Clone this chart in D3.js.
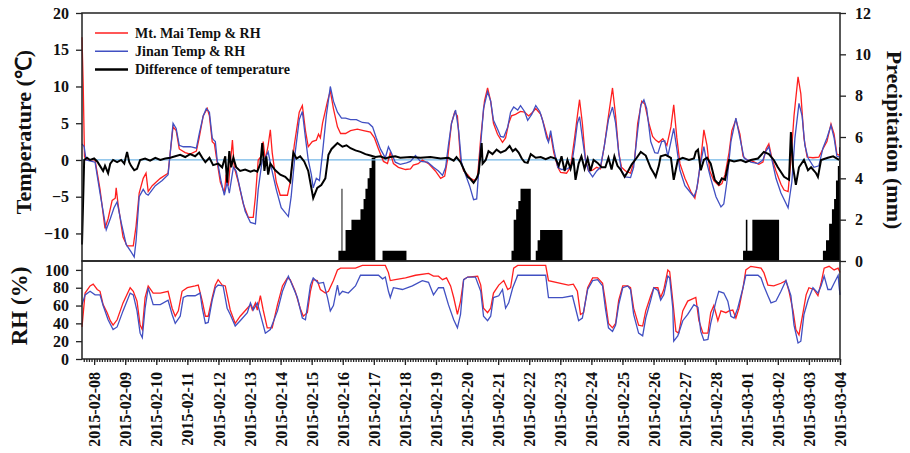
<!DOCTYPE html>
<html>
<head>
<meta charset="utf-8">
<script src="https://cdn.jsdelivr.net/npm/d3@7"></script>
<style>
body{margin:0;background:#fff}
text{font-family:"Liberation Serif","Times New Roman",serif;font-weight:bold;fill:#111}
</style>
</head>
<body>
<svg id="chart" width="910" height="453"></svg>
<script>
// time = days after 2015-02-08 00:00
var maiTemp=[[-0.39,16.7],[-0.35,10],[-0.31,0.5],[-0.26,0],[0.03,0],[0.19,-4],[0.35,-9.3],[0.45,-8],[0.58,-5.5],[0.68,-5.2],[0.71,-3.8],[0.77,-6],[0.93,-10.5],[1.06,-11.7],[1.26,-11.7],[1.35,-9],[1.45,-4.5],[1.58,-2.5],[1.67,-1.8],[1.74,-4.3],[1.87,-3.5],[2.13,-2.5],[2.38,-1.8],[2.45,1],[2.54,4.5],[2.64,4],[2.74,1.5],[2.93,1],[3.09,0.8],[3.29,1.2],[3.38,3],[3.51,6],[3.64,7],[3.71,6],[3.80,2.5],[3.87,2.2],[3.93,0.5],[4.06,-3],[4.19,-4.5],[4.25,-2],[4.32,-3.5],[4.45,2.7],[4.51,-1],[4.64,-3],[4.80,-6],[4.96,-7.8],[5.12,-7.8],[5.19,-5],[5.28,0],[5.38,0.5],[5.44,2.5],[5.51,0],[5.60,2],[5.67,4.1],[5.73,1],[5.86,-3],[5.99,-4.8],[6.22,-4.8],[6.31,-3],[6.44,2],[6.60,6.5],[6.70,7.4],[6.80,4],[6.89,1.8],[7.02,2.5],[7.15,2.7],[7.22,3.5],[7.28,3],[7.35,5],[7.51,8],[7.60,9.4],[7.70,7],[7.83,4.5],[7.93,3.6],[8.09,3.6],[8.25,4.0],[8.47,4.2],[8.67,4.0],[8.89,3.8],[9.02,3],[9.15,1.5],[9.31,-0.2],[9.44,-0.5],[9.53,1],[9.63,-0.5],[9.79,-1],[10.02,-1.3],[10.18,-1.2],[10.27,-0.7],[10.43,-0.5],[10.56,0],[10.76,-0.5],[10.98,-1.5],[11.15,-2.5],[11.28,-2.2],[11.37,0],[11.50,5],[11.60,6.5],[11.69,6],[11.79,0],[11.89,-1.5],[12.02,-2],[12.11,-2.5],[12.24,-2.8],[12.34,-2.2],[12.44,3],[12.56,8],[12.66,9.8],[12.76,8],[12.85,5],[12.98,3.5],[13.14,2.4],[13.24,3],[13.34,5],[13.43,6],[13.56,6.2],[13.72,6.6],[13.85,6.5],[13.98,6],[14.11,6.5],[14.21,7],[14.37,6.2],[14.46,5],[14.56,3.5],[14.62,2.6],[14.69,3.5],[14.79,1],[14.92,-1],[15.01,-1.7],[15.20,-1.8],[15.33,-1],[15.46,3],[15.55,6],[15.62,8.2],[15.71,5],[15.81,0],[15.91,-1.5],[16.04,-1.4],[16.17,-1],[16.29,-1.2],[16.42,2],[16.55,6],[16.68,9.8],[16.78,6],[16.88,1],[16.97,-1],[17.10,-1.5],[17.26,-1.8],[17.39,0],[17.49,5],[17.62,8],[17.72,7.6],[17.85,5],[17.97,3.2],[18.07,2.7],[18.17,2.4],[18.30,2.9],[18.43,2],[18.56,4.5],[18.65,7.5],[18.75,3],[18.85,-0.5],[19.01,-2.5],[19.20,-4.3],[19.33,-5.2],[19.43,-3],[19.52,0],[19.62,4.1],[19.72,2],[19.81,-1.5],[19.94,-2.8],[20.10,-3.5],[20.20,-3.2],[20.30,-2],[20.43,1],[20.52,4],[20.65,5.5],[20.78,3.5],[20.88,0.5],[21.00,0],[21.20,-0.2],[21.39,-0.6],[21.52,-0.3],[21.62,1.5],[21.71,2.2],[21.81,0.2],[21.94,-1.5],[22.10,-3.3],[22.20,-4.1],[22.33,-4.3],[22.42,0],[22.52,6],[22.65,11.3],[22.74,9],[22.84,3],[22.94,0.4],[23.13,0.3],[23.32,0.4],[23.45,1.5],[23.58,2.5],[23.71,4.9],[23.81,3.5],[23.90,0.8],[24.0,0.6]];

var jinanTemp=[[-0.39,2.2],[-0.32,1.8],[-0.26,0],[0.03,-0.3],[0.19,-4.5],[0.39,-9.5],[0.52,-8],[0.64,-6.5],[0.74,-5.7],[0.87,-8.5],[1.03,-11.5],[1.19,-12.5],[1.29,-13.2],[1.35,-11],[1.45,-5],[1.58,-4],[1.67,-4.6],[1.74,-4.8],[1.97,-3.5],[2.19,-2.8],[2.38,-2],[2.45,1],[2.54,5],[2.64,4.3],[2.74,2],[2.87,1.8],[3.09,1.8],[3.29,1.6],[3.38,3.5],[3.51,6],[3.61,7],[3.71,6.5],[3.80,3],[3.83,2.8],[3.90,2.5],[3.96,0],[4.09,-3],[4.19,-4.8],[4.28,-3],[4.35,-4.5],[4.48,-1],[4.57,-1.5],[4.70,-4],[4.86,-7],[5.03,-8.5],[5.19,-8.7],[5.28,-4],[5.41,0],[5.51,0.3],[5.60,1.1],[5.70,-1],[5.86,-4],[6.02,-6.5],[6.25,-7.7],[6.34,-5],[6.47,1],[6.60,5.5],[6.70,6.6],[6.80,3],[6.89,0],[6.99,-2],[7.05,-3.8],[7.15,-2.5],[7.25,-2.8],[7.35,1],[7.47,6],[7.60,10],[7.70,8],[7.83,6.5],[7.96,5.7],[8.09,5.7],[8.25,5.5],[8.44,5.5],[8.63,5.1],[8.83,5],[8.96,4.5],[9.08,3],[9.21,1.5],[9.37,0.3],[9.47,1.8],[9.56,1],[9.69,-0.3],[9.85,-0.6],[10.05,-0.4],[10.18,-0.2],[10.34,0.6],[10.50,-0.2],[10.73,-0.3],[10.92,-1],[11.08,-1.5],[11.21,-2.1],[11.31,-1],[11.40,2],[11.50,5],[11.63,6.8],[11.73,4],[11.82,-0.3],[11.95,-2],[12.08,-3.5],[12.21,-5.4],[12.31,-5.3],[12.40,0],[12.53,7],[12.66,9.3],[12.76,8],[12.85,5.4],[12.98,4.2],[13.08,3.2],[13.18,3.1],[13.31,4.5],[13.40,6.5],[13.50,7.2],[13.63,6.8],[13.72,7.4],[13.85,6.6],[13.95,5.4],[14.08,6.2],[14.21,7.4],[14.34,6.6],[14.43,5.4],[14.56,3],[14.62,2.4],[14.69,4],[14.79,1.5],[14.92,-1],[15.04,-1.3],[15.23,-1.2],[15.36,-0.8],[15.46,2],[15.55,5],[15.62,5.9],[15.71,3],[15.81,0],[15.91,-1.5],[16.04,-2.3],[16.17,-1.5],[16.29,-1],[16.42,2],[16.55,5.5],[16.68,7.2],[16.78,5],[16.88,1],[16.97,-1.5],[17.10,-2.3],[17.26,-2.4],[17.36,-1],[17.49,4],[17.59,7.5],[17.69,8.2],[17.78,7],[17.91,2.5],[18.04,1],[18.14,0.9],[18.26,2.5],[18.36,2.6],[18.46,0.5],[18.56,2.5],[18.65,4.3],[18.75,1.5],[18.85,-1.4],[19.01,-3.5],[19.20,-4.5],[19.30,-5],[19.39,-4],[19.49,-1],[19.62,1.8],[19.72,-0.5],[19.84,-2.5],[20.01,-5],[20.17,-6.4],[20.26,-6],[20.36,-3],[20.49,2.5],[20.65,5.7],[20.78,3],[20.91,0.3],[21.13,-0.3],[21.36,-0.5],[21.52,0],[21.62,1.2],[21.71,1.8],[21.81,0],[21.94,-2.5],[22.10,-4.5],[22.33,-6.5],[22.45,-3],[22.55,3],[22.68,7.7],[22.78,6],[22.87,2],[22.97,0.3],[23.16,-1],[23.32,-0.8],[23.45,1.6],[23.58,3],[23.71,4.7],[23.81,3],[23.90,0.5],[24.0,0.4]];

var tempDiff=[[-0.39,-11.5],[-0.35,-5],[-0.32,0],[-0.23,0.3],[-0.13,0],[0,0.2],[0.10,-0.2],[0.19,-0.8],[0.29,-1.5],[0.35,-0.8],[0.45,-1.8],[0.52,-0.5],[0.61,0],[0.74,-0.3],[0.87,0],[0.97,-0.5],[1.06,1.1],[1.13,-0.3],[1.19,-0.8],[1.29,-1.4],[1.38,-1.2],[1.48,0],[1.64,0.2],[1.80,-0.1],[1.97,0.3],[2.13,0],[2.29,0.2],[2.45,0.3],[2.61,0.5],[2.77,0.7],[2.93,0.4],[3.09,0.8],[3.25,0.5],[3.38,1.0],[3.48,0.3],[3.58,-0.3],[3.71,0.3],[3.83,-0.7],[3.99,-0.5],[4.12,-1],[4.22,0.5],[4.28,-3.1],[4.35,1.2],[4.41,-1],[4.48,0.3],[4.57,-1],[4.70,-1.5],[4.86,-1.3],[5.03,-1.6],[5.15,-1.4],[5.25,-1.6],[5.35,-0.5],[5.41,2.3],[5.48,-1.5],[5.54,0.5],[5.60,-2],[5.67,-0.5],[5.83,-1.4],[5.99,-2],[6.15,-2.3],[6.31,-3],[6.41,1],[6.51,0.2],[6.63,0.5],[6.76,-0.2],[6.89,-1.5],[7.05,-5.2],[7.18,-3.8],[7.31,-3.4],[7.44,-2.5],[7.54,0.7],[7.64,1.5],[7.83,2.3],[7.99,1.8],[8.12,2.0],[8.25,1.6],[8.41,1.3],[8.57,1.1],[8.73,0.8],[8.89,0.6],[9.05,0.4],[9.21,0.5],[9.37,0.2],[9.53,0.4],[9.69,0.5],[9.85,0.3],[10.18,0.4],[10.50,0.3],[10.82,0.4],[11.15,0.2],[11.40,0.3],[11.57,-0.1],[11.66,0.4],[11.79,-0.3],[11.92,-1.5],[12.02,-2.3],[12.11,-2.6],[12.21,-3.1],[12.31,-2.5],[12.37,-1.8],[12.47,2.3],[12.50,-0.5],[12.60,0],[12.69,1.2],[12.82,0.8],[12.95,1.4],[13.08,1],[13.24,1.3],[13.37,1.9],[13.47,1.2],[13.56,1.5],[13.66,1.0],[13.76,0.2],[13.85,-0.3],[13.95,-0.4],[14.05,0.8],[14.21,0.3],[14.37,0.4],[14.53,0.1],[14.69,0.4],[14.85,0.2],[14.95,-0.8],[15.04,0.5],[15.14,-1.5],[15.23,0],[15.33,-1.2],[15.42,0.3],[15.49,-2.7],[15.59,-0.5],[15.68,0.5],[15.78,-1.2],[15.88,0.2],[15.97,-1.5],[16.07,0],[16.20,-0.4],[16.33,-1],[16.45,-1],[16.55,0.3],[16.65,-1.3],[16.74,0.5],[16.84,-0.8],[16.94,-1.3],[17.07,-2.3],[17.17,-1.6],[17.30,-0.6],[17.46,0.3],[17.59,1.1],[17.75,0.6],[17.91,-1.1],[18.01,-1.8],[18.07,-2.3],[18.17,-0.8],[18.23,0.5],[18.39,0.7],[18.56,0.3],[18.65,-2.7],[18.78,0],[18.94,0.3],[19.14,0],[19.30,0.2],[19.36,1.1],[19.43,1.4],[19.52,-1.4],[19.62,0],[19.72,0.3],[19.84,-0.5],[19.97,-2.7],[20.10,-3.3],[20.20,-2.5],[20.30,-2.7],[20.43,0],[20.59,-0.2],[20.81,0],[20.97,-0.3],[21.13,0],[21.36,0.2],[21.55,1.1],[21.71,0.8],[21.87,0],[22.00,-1],[22.20,-2.3],[22.36,-2.7],[22.42,3.8],[22.49,-1],[22.58,-3.4],[22.68,-1],[22.84,0],[22.97,-1.4],[23.07,-1],[23.23,-1.8],[23.29,-2.3],[23.39,0],[23.61,0.3],[23.78,0.5],[23.97,0]];

// hourly precipitation blocks, stepped
var precip=[[7.86,0.5],[7.96,3.5],[7.99,0.5],[8.09,1.5],[8.28,2.0],[8.57,2.5],[8.67,3.0],[8.73,3.5],[8.80,4.0],[8.86,4.5],[8.93,5.0],[9.05,0],[9.28,0.5],[10.05,0],[13.43,0.5],[13.50,2.0],[13.58,2.5],[13.65,2.9],[13.72,3.5],[14.05,0],[14.21,0.5],[14.27,1.0],[14.35,1.5],[15.07,0],[20.88,0.5],[20.97,2.0],[21.02,0.5],[21.18,2.0],[22.04,0],[23.45,0.5],[23.55,1.0],[23.65,1.8],[23.74,2.5],[23.81,3.0],[23.87,3.9],[23.93,4.6],[23.97,5.5],[24.0,5.5]];

var maiRH=[[-0.39,36],[-0.29,74],[-0.13,82],[-0.03,84],[0.10,78],[0.19,76],[0.29,61],[0.42,52],[0.52,43],[0.61,38],[0.74,44],[0.93,63],[1.16,80],[1.26,76],[1.38,65],[1.48,38],[1.55,33],[1.64,69],[1.74,82],[1.90,74],[2.13,74],[2.38,76],[2.51,57],[2.61,48],[2.71,54],[2.83,76],[3.00,80],[3.25,82],[3.35,83],[3.48,65],[3.58,48],[3.67,48],[3.80,69],[3.90,83],[3.99,89],[4.12,83],[4.22,82],[4.38,55],[4.54,40],[4.70,48],[4.93,57],[5.03,61],[5.09,55],[5.19,63],[5.25,55],[5.35,71],[5.44,55],[5.57,35],[5.73,35],[5.90,61],[6.06,82],[6.22,91],[6.31,89],[6.47,76],[6.63,57],[6.73,48],[6.86,52],[6.96,76],[7.05,89],[7.18,88],[7.28,78],[7.44,74],[7.54,76],[7.70,88],[7.83,100],[7.93,102],[8.18,102],[8.41,102],[8.63,105],[9.37,105],[9.47,97],[9.53,88],[9.69,89],[10.02,91],[10.34,94],[10.76,96],[10.92,93],[11.08,93],[11.21,89],[11.34,91],[11.47,82],[11.57,69],[11.69,50],[11.79,65],[11.89,89],[12.02,92],[12.34,93],[12.44,83],[12.53,57],[12.66,52],[12.76,57],[12.85,74],[13.02,83],[13.18,88],[13.31,78],[13.40,80],[13.50,102],[13.63,105],[14.53,105],[14.62,88],[15.26,83],[15.42,84],[15.55,76],[15.65,50],[15.75,52],[15.88,80],[16.04,91],[16.20,91],[16.36,85],[16.45,65],[16.55,40],[16.68,35],[16.78,40],[16.88,66],[17.01,82],[17.17,82],[17.26,80],[17.36,57],[17.52,38],[17.65,37],[17.75,54],[17.91,71],[18.01,80],[18.14,80],[18.23,69],[18.33,78],[18.46,100],[18.52,98],[18.62,65],[18.72,31],[18.81,29],[18.94,54],[19.10,65],[19.36,69],[19.46,43],[19.59,29],[19.75,29],[19.84,52],[19.94,60],[20.07,43],[20.17,54],[20.33,52],[20.43,54],[20.55,55],[20.65,46],[20.75,57],[20.88,80],[20.97,100],[21.13,104],[21.46,102],[21.55,97],[21.68,83],[21.87,82],[22.10,85],[22.26,88],[22.36,76],[22.49,54],[22.58,33],[22.68,27],[22.81,52],[22.91,72],[23.00,80],[23.16,78],[23.29,71],[23.39,85],[23.49,102],[23.65,104],[23.81,100],[23.94,102],[24.0,97]];

var jinanRH=[[-0.39,61],[-0.29,72],[-0.13,76],[0.03,72],[0.19,72],[0.29,60],[0.45,44],[0.61,33],[0.74,36],[0.93,54],[1.16,74],[1.26,72],[1.38,54],[1.48,29],[1.55,24],[1.64,57],[1.74,80],[1.90,61],[2.13,61],[2.38,66],[2.51,50],[2.61,40],[2.77,48],[2.87,69],[3.00,71],[3.25,71],[3.41,74],[3.48,57],[3.58,40],[3.67,41],[3.80,66],[3.90,80],[3.99,83],[4.15,82],[4.28,57],[4.38,50],[4.54,37],[4.70,43],[4.93,52],[5.03,63],[5.12,55],[5.25,63],[5.35,50],[5.51,29],[5.67,33],[5.90,54],[6.06,76],[6.25,93],[6.34,86],[6.54,69],[6.70,46],[6.80,44],[6.96,83],[7.05,91],[7.22,85],[7.38,86],[7.51,69],[7.60,54],[7.70,60],[7.83,83],[7.89,72],[7.99,76],[8.18,74],[8.41,82],[8.57,94],[9.15,94],[9.28,90],[9.37,92],[9.47,76],[9.53,69],[9.63,80],[9.92,78],[10.24,82],[10.56,88],[10.76,86],[10.92,72],[11.08,80],[11.24,80],[11.40,61],[11.57,44],[11.69,35],[11.79,50],[11.89,89],[12.02,92],[12.27,92],[12.44,76],[12.53,48],[12.66,43],[12.76,48],[12.85,69],[13.02,71],[13.14,78],[13.24,57],[13.34,63],[13.47,80],[13.63,94],[14.53,94],[14.62,69],[15.07,69],[15.39,71],[15.49,57],[15.59,43],[15.71,46],[15.88,78],[16.04,88],[16.20,89],[16.36,82],[16.45,57],[16.55,35],[16.68,31],[16.78,38],[16.88,61],[17.01,80],[17.17,82],[17.26,78],[17.36,50],[17.52,29],[17.65,26],[17.75,46],[17.91,66],[18.01,80],[18.14,77],[18.23,66],[18.33,72],[18.46,93],[18.52,91],[18.62,57],[18.65,20],[18.78,26],[18.94,43],[19.10,50],[19.30,61],[19.43,58],[19.52,31],[19.62,21],[19.75,22],[19.84,40],[20.01,65],[20.10,76],[20.26,74],[20.39,65],[20.49,48],[20.59,46],[20.71,57],[20.88,80],[20.97,94],[21.36,94],[21.46,91],[21.55,82],[21.68,71],[21.78,63],[21.94,65],[22.10,76],[22.26,88],[22.42,71],[22.52,38],[22.65,18],[22.74,20],[22.84,50],[22.97,66],[23.13,80],[23.29,74],[23.39,82],[23.49,93],[23.61,78],[23.71,78],[23.81,85],[23.94,94],[23.97,82],[24.0,72]];

var dateLabels=['2015-02-08','2015-02-09','2015-02-10','2015-02-11','2015-02-12','2015-02-13','2015-02-14','2015-02-15','2015-02-16','2015-02-17','2015-02-18','2015-02-19','2015-02-20','2015-02-21','2015-02-22','2015-02-23','2015-02-24','2015-02-25','2015-02-26','2015-02-27','2015-02-28','2015-03-01','2015-03-02','2015-03-03','2015-03-04'];
var tempTicks=[-10,-5,0,5,10,15,20];
var precipTicks=[0,2,4,6,8,10,12];
var rhTicks=[0,20,40,60,80,100];
var legendNames=['Mt. Mai Temp & RH','Jinan Temp & RH','Difference of temperature'];

var red='#ff1f1f', blue='#4150c2', dark='#222';
var left=82, right=840, top1=13, bot1=261, bot2=359;

var svg=d3.select('#chart');
var t0=new Date(2015,1,8);
function day(t){return new Date(t0.getTime()+t*864e5)}
var parseDay=d3.timeParse('%Y-%m-%d');

var x=d3.scaleTime().domain([day(-0.39),day(24)]).range([left,right]);
var yT=d3.scaleLinear().domain([-13.75,20]).range([bot1,top1]);
var yP=d3.scaleLinear().domain([0,12]).range([bot1,top1]);
var yRH=d3.scaleLinear().domain([0,110]).range([bot2,bot1]);

// precipitation bars
svg.append('path')
   .datum(precip)
   .attr('d',d3.area().curve(d3.curveStepAfter)
      .x(function(d){return x(day(d[0]))})
      .y0(yP(0))
      .y1(function(d){return yP(d[1])}))
   .attr('fill','#000')

// zero line
svg.append('line')
   .attr('x1',left).attr('x2',right)
   .attr('y1',yT(0)).attr('y2',yT(0))
   .style('stroke','#72b6e6').style('stroke-width',1.3)

var tline=d3.line().x(function(d){return x(day(d[0]))}).y(function(d){return yT(d[1])});
var rline=d3.line().x(function(d){return x(day(d[0]))}).y(function(d){return yRH(d[1])});

svg.append('path').datum(maiTemp).attr('d',tline)
   .attr('fill','none').attr('stroke',red).style('stroke-width',1.3)
svg.append('path').datum(jinanTemp).attr('d',tline)
   .attr('fill','none').attr('stroke',blue).style('stroke-width',1.3)
svg.append('path').datum(tempDiff).attr('d',tline)
   .attr('fill','none').attr('stroke','#000').style('stroke-width',2)

svg.append('path').datum(maiRH).attr('d',rline)
   .attr('fill','none').attr('stroke',red).style('stroke-width',1.3)
svg.append('path').datum(jinanRH).attr('d',rline)
   .attr('fill','none').attr('stroke',blue).style('stroke-width',1.3)

// frames
svg.append('rect').attr('x',left).attr('y',top1).attr('width',right-left).attr('height',bot1-top1)
   .attr('fill','none').attr('stroke',dark).style('stroke-width',1.5)
svg.append('rect').attr('x',left).attr('y',bot1).attr('width',right-left).attr('height',bot2-bot1)
   .attr('fill','none').attr('stroke',dark).style('stroke-width',1.5)

function styleAxis(g){
  g.select('.domain').remove();
  g.selectAll('line').attr('stroke',dark).style('stroke-width',1.3);
  g.selectAll('text').style('font-size','16px').style('font-family','"Liberation Serif",serif')
   .style('font-weight','bold').attr('fill','#111');
}

svg.append('g').attr('transform','translate('+left+',0)')
   .call(d3.axisLeft(yT).tickValues(tempTicks).tickSize(6).tickPadding(7))
   .call(styleAxis)
svg.append('g').attr('transform','translate('+right+',0)')
   .call(d3.axisRight(yP).tickValues(precipTicks).tickSize(6).tickPadding(9))
   .call(styleAxis)
svg.append('g').attr('transform','translate('+left+',0)')
   .call(d3.axisLeft(yRH).tickValues(rhTicks).tickSize(6).tickPadding(7))
   .call(styleAxis)

// minor x ticks every 2 hours
svg.append('g').attr('transform','translate(0,'+bot2+')')
   .call(d3.axisBottom(x).ticks(d3.timeHour.every(2)).tickSize(3).tickFormat(''))
   .call(styleAxis)

var xaxis=svg.append('g').attr('transform','translate(0,'+bot2+')')
   .call(d3.axisBottom(x).tickValues(dateLabels.map(parseDay)).tickSize(6)
        .tickFormat(d3.timeFormat('%Y-%m-%d')))
   .call(styleAxis)
xaxis.selectAll('text')
   .attr('transform','rotate(-90)')
   .attr('x',-13).attr('y',0).attr('dy','0.35em')
   .style('text-anchor','end')

// axis titles
svg.append('text').text('Temperature (℃)')
   .attr('transform','translate(23,132) rotate(-90)')
   .attr('dy','0.35em').style('text-anchor','middle').style('font-size','22px')
svg.append('text').text('RH (%)')
   .attr('transform','translate(19,306) rotate(-90)')
   .attr('dy','0.35em').style('text-anchor','middle').style('font-size','23px')
svg.append('text').text('Precipitation (mm)')
   .attr('transform','translate(895,140) rotate(90)')
   .attr('dy','0.35em').style('text-anchor','middle').style('font-size','22px')

// legend
var legendColors=[red,blue,'#000'];
var legendWidths=[1.6,1.6,2.5];
var legend=svg.append('g').selectAll('g').data(legendNames).enter().append('g')
   .attr('transform',function(d,i){return 'translate(95,'+(33+i*18.2)+')'});
legend.append('line').attr('x1',0).attr('x2',33).attr('y1',0).attr('y2',0)
   .attr('stroke',function(d,i){return legendColors[i]})
   .style('stroke-width',function(d,i){return legendWidths[i]});
legend.append('text').text(function(d){return d})
   .attr('x',40).attr('dy','0.35em').style('font-size','14px');
</script>
</body>
</html>
